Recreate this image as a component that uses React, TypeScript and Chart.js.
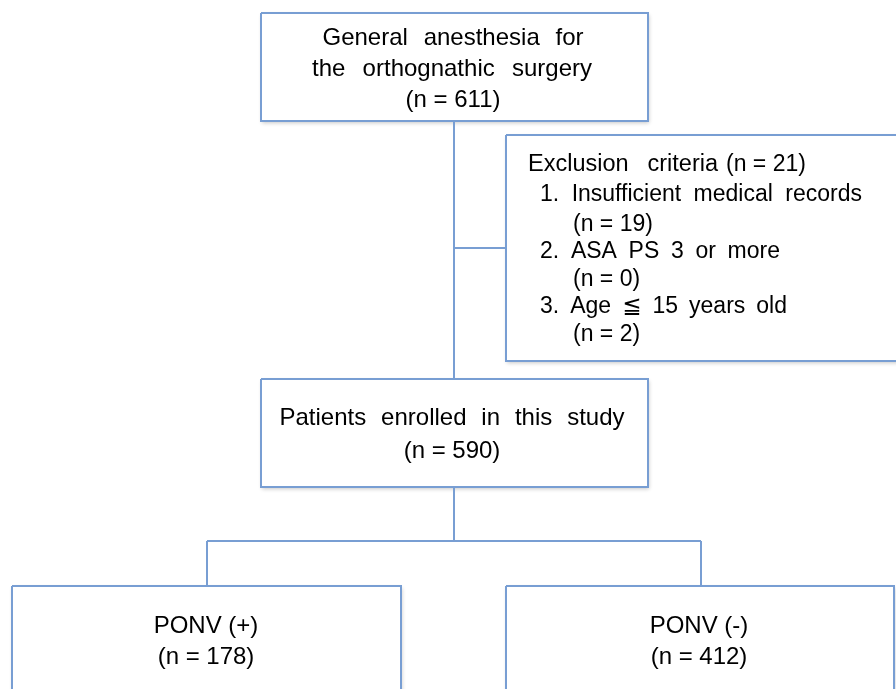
import React, { useEffect, useRef } from "react";
import { Chart, registerables } from "chart.js";

Chart.register(...registerables);

// ---- data ----
const totalN = 611;
const excludedN = 21;
const exclusionReasons = ["Insufficient medical records", "ASA PS 3 or more", "Age ≦ 15 years old"];
const exclusionCounts = [19, 0, 2];
const enrolledN = 590;
const groupLabels = ["PONV (+)", "PONV (-)"];
const groupCounts = [178, 412];

// ---- layout (flowchart space, pixels of a 896x689 page) ----
const W = 896;
const H = 689;
const LINE_COLOR = "#789ed3";
const FONT = "'Liberation Sans', Arial, 'DejaVu Sans', sans-serif";

type Box = { x0: number; y0: number; x1: number; y1: number };
const boxTop: Box = { x0: 261, y0: 13, x1: 648, y1: 121 };
const boxExcl: Box = { x0: 506, y0: 135, x1: 910, y1: 361 };
const boxMid: Box = { x0: 261, y0: 379, x1: 648, y1: 487 };
const boxLeft: Box = { x0: 12, y0: 586, x1: 401, y1: 710 };
const boxRight: Box = { x0: 506, y0: 586, x1: 894, y1: 710 };
const allBoxes = [boxTop, boxExcl, boxMid, boxLeft, boxRight];

const trunkX = 454;
const exclY = 248;
const splitY = 541;
const leftX = 207;
const rightX = 701;

type TextItem = { text: string; x: number; y: number; align: CanvasTextAlign; size: number; width?: number };

const exclLineYs = [195, 225, 252, 280, 307, 335];

const texts: TextItem[] = [
  { text: "General anesthesia for", x: 453, y: 38, align: "center", size: 24, width: 261 },
  { text: "the orthognathic surgery", x: 452, y: 69, align: "center", size: 24, width: 280 },
  { text: `(n = ${totalN})`, x: 453, y: 100, align: "center", size: 24 },
  { text: "Exclusion criteria", x: 528, y: 165, align: "left", size: 23.5, width: 190 },
  { text: `(n = ${excludedN})`, x: 726, y: 165, align: "left", size: 23 },
  ...exclusionReasons.flatMap((r, i): TextItem[] => [
    { text: `${i + 1}. ${r}`, x: 540, y: exclLineYs[i * 2], align: "left", size: 23, width: [322, 240, 247][i] },
    { text: `(n = ${exclusionCounts[i]})`, x: 573, y: exclLineYs[i * 2 + 1], align: "left", size: 23 },
  ]),
  { text: "Patients enrolled in this study", x: 452, y: 418, align: "center", size: 24, width: 345 },
  { text: `(n = ${enrolledN})`, x: 452, y: 451, align: "center", size: 24 },
  { text: groupLabels[0], x: 206, y: 626, align: "center", size: 24 },
  { text: `(n = ${groupCounts[0]})`, x: 206, y: 657, align: "center", size: 24 },
  { text: groupLabels[1], x: 699, y: 626, align: "center", size: 24 },
  { text: `(n = ${groupCounts[1]})`, x: 699, y: 657, align: "center", size: 24 },
];

const boxPoints = (b: Box) => [
  { x: b.x0, y: b.y0 },
  { x: b.x1, y: b.y0 },
  { x: b.x1, y: b.y1 },
  { x: b.x0, y: b.y1 },
  { x: b.x0, y: b.y0 },
];

const connectorPoints = [
  { x: trunkX, y: boxTop.y1 }, { x: trunkX, y: boxMid.y0 }, { x: trunkX, y: null },
  { x: trunkX, y: exclY }, { x: boxExcl.x0, y: exclY }, { x: boxExcl.x0, y: null },
  { x: trunkX, y: boxMid.y1 }, { x: trunkX, y: splitY }, { x: trunkX, y: null },
  { x: leftX, y: splitY }, { x: rightX, y: splitY }, { x: rightX, y: null },
  { x: leftX, y: splitY }, { x: leftX, y: boxLeft.y0 }, { x: leftX, y: null },
  { x: rightX, y: splitY }, { x: rightX, y: boxRight.y0 },
];

const shadowPlugin = {
  id: "boxShadow",
  beforeDatasetsDraw(chart: any) {
    const { ctx, scales } = chart;
    const sx = scales.x, sy = scales.y;
    allBoxes.forEach((b) => {
      const x0 = sx.getPixelForValue(b.x0);
      const x1 = sx.getPixelForValue(b.x1);
      const y0 = sy.getPixelForValue(b.y0);
      const y1 = sy.getPixelForValue(b.y1);
      ctx.save();
      ctx.shadowColor = "rgba(0,0,0,0.22)";
      ctx.shadowBlur = 4;
      ctx.shadowOffsetX = 1;
      ctx.shadowOffsetY = 2;
      ctx.fillStyle = "#ffffff";
      ctx.fillRect(x0, y0, x1 - x0, y1 - y0);
      ctx.restore();
    });
  },
};

const textPlugin = {
  id: "flowText",
  afterDatasetsDraw(chart: any) {
    const { ctx, scales } = chart;
    const sx = scales.x, sy = scales.y;
    texts.forEach((t) => {
      ctx.save();
      ctx.font = `${t.size}px ${FONT}`;
      ctx.fillStyle = "#000000";
      ctx.textAlign = t.align;
      ctx.textBaseline = "middle";
      const c: any = ctx;
      if (t.width && "wordSpacing" in c) {
        c.wordSpacing = "0px";
        const w0 = ctx.measureText(t.text).width;
        const n = (t.text.match(/ /g) || []).length;
        if (n > 0) c.wordSpacing = `${Math.max(0, (t.width - w0) / n)}px`;
      }
      ctx.fillText(t.text, sx.getPixelForValue(t.x), sy.getPixelForValue(t.y));
      ctx.restore();
    });
  },
};

export default function App() {
  const ref = useRef<HTMLCanvasElement | null>(null);
  useEffect(() => {
    if (!ref.current) return;
    const lineDs = (data: any[]) => ({
      data,
      borderColor: LINE_COLOR,
      borderWidth: 2,
      pointRadius: 0,
      tension: 0,
      fill: false,
      spanGaps: false,
      borderJoinStyle: "miter" as const,
    });
    const chart = new Chart(ref.current, {
      type: "line",
      data: {
        datasets: [...allBoxes.map((b) => lineDs(boxPoints(b))), lineDs(connectorPoints)],
      },
      options: {
        animation: false,
        responsive: false,
        maintainAspectRatio: false,
        layout: { padding: 0 },
        plugins: { legend: { display: false }, tooltip: { enabled: false } },
        events: [],
        scales: {
          x: { type: "linear", min: 0, max: W, display: false },
          y: { type: "linear", min: 0, max: H, reverse: true, display: false },
        },
      },
      plugins: [shadowPlugin, textPlugin],
    });
    return () => chart.destroy();
  }, []);
  return (
    <div style={{ position: "absolute", left: 0, top: 0, width: W, height: H, background: "#fff" }}>
      <canvas ref={ref} width={W} height={H} style={{ display: "block" }} />
    </div>
  );
}
